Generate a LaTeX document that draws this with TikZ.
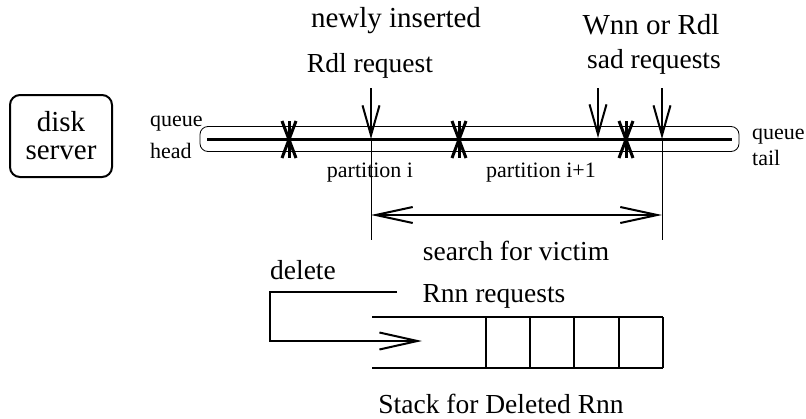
\documentclass[tikz,border=0pt]{standalone}
\usepackage{fontspec}
\setmainfont{Liberation Serif}
\usetikzlibrary{arrows.meta}
\begin{document}
\begin{tikzpicture}[x=1pt,y=-1pt,
  big/.style={font=\fontsize{27.5}{30}\selectfont, inner sep=0pt, anchor=base},
  bigger/.style={font=\fontsize{29}{30}\selectfont, inner sep=0pt, anchor=base},
  small/.style={font=\fontsize{22}{24}\selectfont, inner sep=0pt, anchor=base},
  vee/.style={-{Straight Barb[length=30pt,width=17pt]}, line width=2pt},
  cutmark/.style={line width=3pt},
  thinline/.style={line width=0.8pt},
  stackline/.style={line width=2pt}]
\useasboundingbox (0,0) rectangle (806,418);

% disk server
\node[draw, line width=2pt, rounded corners=10pt, minimum width=102pt, minimum height=82pt,
      align=center, font=\fontsize{29}{28}\selectfont, inner sep=0pt] (disk) at (61,136) {disk\\server};

% queue
\node[draw, thinline, rounded corners=8pt, minimum width=539pt, minimum height=25pt, inner sep=0pt] (queue) at (469.5,139) {};
\coordinate (qh) at (207,139);
\coordinate (qt) at (732,139);
\draw[line width=3pt] (qh) -- (qt);

\node[small, anchor=base west] (lq) at (150,126) {queue};
\node[small, anchor=base west] (lh) at (150,158) {head};
\node[small, anchor=base west] (rq) at (752,139) {queue};
\node[small, anchor=base west] (rt) at (752,165) {tail};

% partition cut marks
\foreach \x in {289,459,626} {
  \draw[cutmark] (\x-7,121) -- (\x+7,158);
  \draw[cutmark] (\x+7,121) -- (\x-7,158);
  \draw[cutmark] (\x,121) -- (\x,158);
}

\node[small] (p1) at (370,177) {partition i};
\node[small] (p2) at (541,177) {partition i+1};

% incoming requests
\node[bigger] (ni) at (396,27) {newly inserted};
\node[big] (rdl) at (370,72) {Rdl request};
\node[bigger] (wnn) at (651,34) {Wnn or Rdl};
\node[big] (sad) at (654,68) {sad requests};

\coordinate (a1s) at (371,88); \coordinate (a1e) at (371,139);
\coordinate (a2s) at (598,88); \coordinate (a2e) at (598,138);
\coordinate (a3s) at (662,88); \coordinate (a3e) at (662,139);
\draw[vee] (a1s) -- (a1e);
\draw[vee] (a2s) -- (a2e);
\draw[vee] (a3s) -- (a3e);

% search range
\coordinate (v1b) at (371,240);
\coordinate (v2b) at (662,240);
\draw[thinline] (a1e) -- (v1b);
\draw[thinline] (a3e) -- (v2b);
\coordinate (s1) at (371,215);
\coordinate (s2) at (662,215);
\draw[line width=2pt, {Straight Barb[length=37pt,width=16pt]}-{Straight Barb[length=37pt,width=16pt]}] (s1) -- (s2);
\node[big] (search) at (516,260) {search for victim};

% stack
\node[big] (del) at (303,279) {delete};
\node[big] (rnn) at (494,302) {Rnn requests};
\coordinate (stl) at (372,317); \coordinate (str) at (663,317);
\coordinate (sbl) at (372,368); \coordinate (sbr) at (663,368);
\draw[stackline] (stl) -- (str);
\draw[stackline] (sbl) -- (sbr);
\foreach \x in {486,530,574,619,663} {
  \draw[stackline] (\x,317) -- (\x,368);
}
\coordinate (d0) at (397,292);
\coordinate (d1) at (270,292);
\coordinate (d2) at (270,341);
\coordinate (d3) at (422,341);
\draw[line width=2pt, -{Straight Barb[length=38pt,width=17pt]}] (d0) -- (d1) -- (d2) -- (d3);
\node[big] (stack) at (501,413) {Stack for Deleted Rnn};
\end{tikzpicture}
\end{document}
